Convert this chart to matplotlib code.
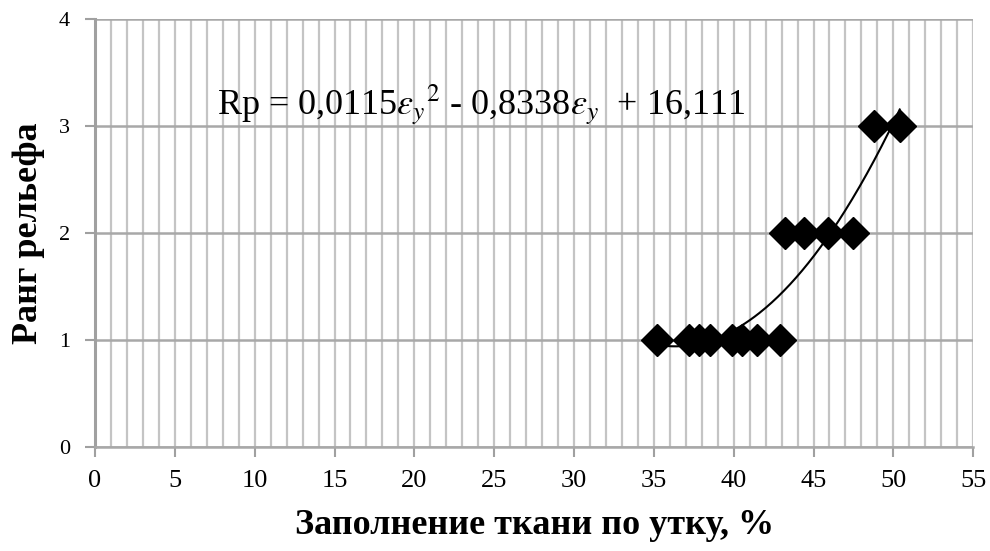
import numpy as np
import matplotlib
matplotlib.use("Agg")
import matplotlib.pyplot as plt
from matplotlib.ticker import MultipleLocator

# filling along weft, % and relief rank
fill_pct = [35.2, 37.2, 37.8, 38.5, 39.9, 40.5, 41.45, 42.9,
            43.2, 44.4, 45.9, 47.5, 48.8, 50.4]
relief_rank = [1, 1, 1, 1, 1, 1, 1, 1,
               2, 2, 2, 2, 3, 3]
equation = r"Rp = 0,0115$\varepsilon_y$$^2$ - 0,8338$\varepsilon_y$  + 16,111"

plt.rcParams['font.family'] = ['Liberation Serif', 'DejaVu Serif']
plt.rcParams['mathtext.fontset'] = 'stix'

fig = plt.figure(figsize=(9.9, 5.51), dpi=100)
ax = fig.add_axes([0.096, 0.189, 0.887, 0.7765])

ax.set_xlim(0, 55)
ax.set_ylim(0, 4)
ax.xaxis.set_major_locator(MultipleLocator(5))
ax.xaxis.set_minor_locator(MultipleLocator(1))
ax.yaxis.set_major_locator(MultipleLocator(1))

ax.grid(which='minor', axis='x', color='#c4c4c4', lw=1.6)
ax.grid(which='major', axis='x', color='#c4c4c4', lw=1.6)
ax.grid(which='major', axis='y', color='#a8a8a8', lw=1.8)
ax.set_axisbelow(True)

for side in ('top', 'right'):
    ax.spines[side].set_visible(False)
ax.spines['left'].set_color('#a0a0a0')
ax.spines['left'].set_linewidth(2.2)
ax.spines['bottom'].set_color('#a8a8a8')
ax.spines['bottom'].set_linewidth(1.8)

ax.tick_params(axis='both', which='major', direction='out', length=7,
               color='#a0a0a0', width=1.5)
ax.tick_params(axis='x', which='major', labelsize=19, pad=10)
ax.tick_params(axis='y', which='major', labelsize=16, pad=11)
ax.tick_params(axis='x', which='minor', length=0)

# polynomial (2nd order) trend line over the data range
coef = np.polyfit(fill_pct, relief_rank, 2)
xs = np.linspace(min(fill_pct), max(fill_pct), 200)
ax.plot(xs, np.polyval(coef, xs), color='black', lw=1.5, zorder=3)

ax.plot(fill_pct, relief_rank, linestyle='none', marker='D', markersize=16.5,
        color='black', zorder=4)

ax.text(24.2, 3.2, equation, ha='center', va='center', fontsize=26)

ax.set_xlabel("Заполнение ткани по утку, %", fontsize=26, fontweight='bold',
              labelpad=12)
ax.set_ylabel("Ранг рельефа", fontsize=26, fontweight='bold', labelpad=10)

fig.savefig("out.png", dpi=100)
